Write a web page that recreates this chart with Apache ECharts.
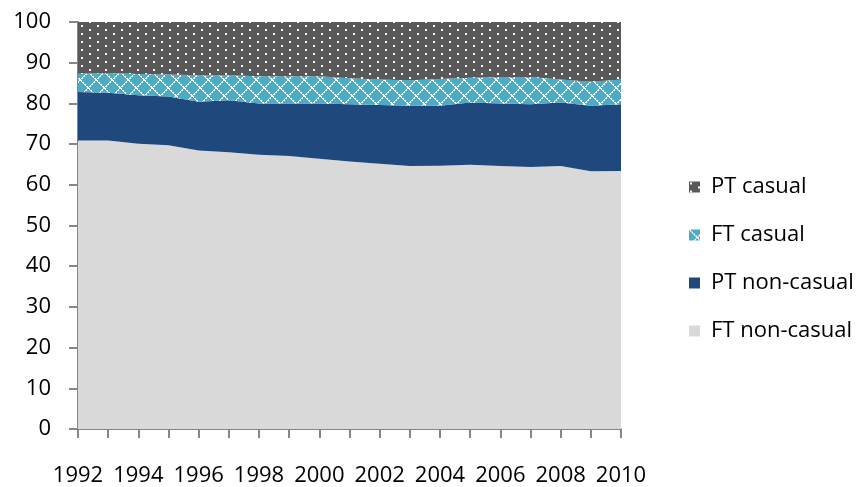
<!DOCTYPE html>
<html>
<head>
<meta charset="utf-8">
<style>
  html, body { margin: 0; padding: 0; background: #ffffff; }
  #chart { width: 858px; height: 487px; }
</style>
<script src="https://cdn.jsdelivr.net/npm/echarts@6/dist/echarts.min.js"></script>
</head>
<body>
<div id="chart"></div>
<script>
// Share of employment by type, per cent (stacked to 100)
const years = ['1992','1993','1994','1995','1996','1997','1998','1999','2000','2001',
               '2002','2003','2004','2005','2006','2007','2008','2009','2010'];
const ftNonCasual = [70.9, 70.9, 70.1, 69.7, 68.4, 68.0, 67.4, 67.1, 66.4, 65.7,
                     65.2, 64.6, 64.7, 64.9, 64.6, 64.4, 64.6, 63.3, 63.4];
const ptNonCasual = [11.9, 11.7, 11.9, 12.0, 12.0, 12.8, 12.6, 12.9, 13.6, 14.1,
                     14.4, 14.8, 14.7, 15.3, 15.4, 15.4, 15.6, 16.1, 16.4];
const ftCasual    = [4.5, 4.9, 5.2, 5.4, 6.5, 6.1, 6.7, 6.7, 6.7, 6.4,
                     6.3, 6.3, 6.6, 6.1, 6.5, 6.7, 5.7, 5.9, 6.1];
const ptCasual    = [12.7, 12.5, 12.8, 12.9, 13.1, 13.1, 13.3, 13.3, 13.3, 13.8,
                     14.1, 14.3, 14.0, 13.7, 13.5, 13.5, 14.1, 14.7, 14.1];
const yTicks = { min: 0, max: 100, step: 10 };

const FONT = '"Open Sans", "Noto Sans", sans-serif';
const AXIS_GREY = '#868686';

// Dotted fill: staggered white dots on dark grey
function dotPattern() {
  const c = document.createElement('canvas');
  c.width = 16; c.height = 8;
  const g = c.getContext('2d');
  g.fillStyle = '#595959';
  g.fillRect(0, 0, 16, 8);
  g.fillStyle = '#ffffff';
  g.fillRect(1, 1, 2, 2);
  g.fillRect(9, 5, 2, 2);
  return c;
}

// Diamond lattice: dotted white diagonals on light blue
function diamondPattern() {
  const n = 16;
  const c = document.createElement('canvas');
  c.width = n; c.height = n;
  const g = c.getContext('2d');
  g.fillStyle = '#4BACC6';
  g.fillRect(0, 0, n, n);
  g.fillStyle = '#ffffff';
  for (let i = 0; i < n; i++) {
    g.fillRect(i, i, 1, 1);
    g.fillRect(n - 1 - i, i, 1, 1);
    if (i % 2 === 0) {
      g.fillRect((i + 1) % n, i, 1, 1);
      g.fillRect((n - i) % n, i, 1, 1);
    }
  }
  return c;
}

const fills = {
  'FT non-casual': '#D9D9D9',
  'PT non-casual': '#1F497D',
  'FT casual': { image: diamondPattern(), repeat: 'repeat' },
  'PT casual': { image: dotPattern(), repeat: 'repeat' }
};

function areaSeries(name, data) {
  return {
    name: name,
    type: 'line',
    stack: 'total',
    data: data,
    showSymbol: false,
    symbol: 'none',
    lineStyle: { width: 0 },
    itemStyle: { color: fills[name] },
    areaStyle: { color: fills[name], opacity: 1 },
    emphasis: { disabled: true },
    silent: true
  };
}

const chart = echarts.init(document.getElementById('chart'), null, { renderer: 'canvas' });
chart.setOption({
  animation: false,
  backgroundColor: '#ffffff',
  grid: { left: 78, right: 237, top: 22, bottom: 54, containLabel: false },
  legend: {
    orient: 'vertical',
    left: 684,
    top: 171,
    itemWidth: 11,
    itemHeight: 11,
    itemGap: 26,
    icon: 'rect',
    textStyle: { fontFamily: FONT, fontSize: 22, color: '#000000', padding: [0, 0, 0, 6] },
    data: ['PT casual', 'FT casual', 'PT non-casual', 'FT non-casual'].map(n => ({
      name: n,
      itemStyle: { color: fills[n] }
    }))
  },
  xAxis: {
    type: 'category',
    data: years,
    boundaryGap: false,
    axisLine: { show: true, lineStyle: { color: AXIS_GREY, width: 2 } },
    axisTick: { show: true, interval: 0, length: 9, lineStyle: { color: AXIS_GREY, width: 2 } },
    axisLabel: { interval: 1, margin: 36, fontFamily: FONT, fontSize: 22, color: '#000000' },
    splitLine: { show: false }
  },
  yAxis: {
    type: 'value',
    min: yTicks.min,
    max: yTicks.max,
    interval: yTicks.step,
    axisLine: { show: true, lineStyle: { color: AXIS_GREY, width: 2 } },
    axisTick: { show: true, length: 9, lineStyle: { color: AXIS_GREY, width: 2 } },
    axisLabel: { margin: 27, fontFamily: FONT, fontSize: 22, color: '#000000' },
    splitLine: { show: false }
  },
  series: [
    areaSeries('FT non-casual', ftNonCasual),
    areaSeries('PT non-casual', ptNonCasual),
    areaSeries('FT casual', ftCasual),
    areaSeries('PT casual', ptCasual)
  ]
});
</script>
</body>
</html>
